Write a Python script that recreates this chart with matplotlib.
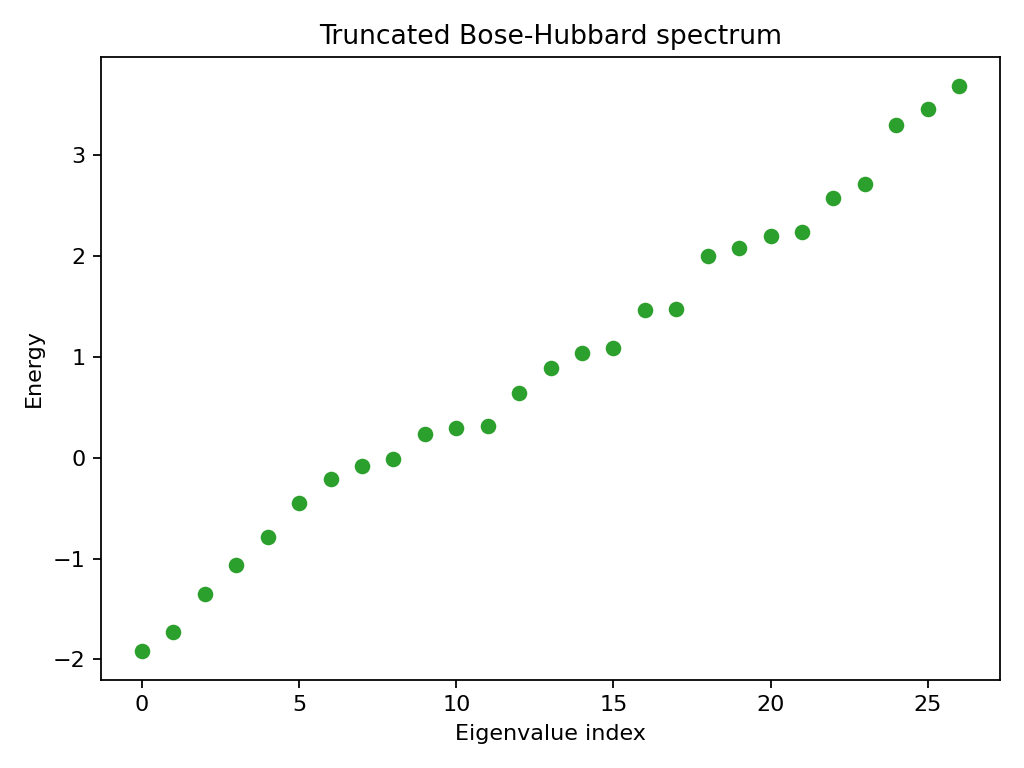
import matplotlib
matplotlib.use("Agg")
import matplotlib.pyplot as plt

indices = list(range(27))
energies = [-1.92, -1.73, -1.35, -1.06, -0.79, -0.45, -0.21, -0.08, -0.01,
            0.23, 0.29, 0.31, 0.64, 0.89, 1.04, 1.09, 1.46, 1.47,
            2.00, 2.08, 2.20, 2.24, 2.58, 2.71, 3.30, 3.46, 3.69]

fig, ax = plt.subplots(figsize=(6.4, 4.8), dpi=160)
ax.scatter(indices, energies, color='C2', s=36)
ax.set_xlabel("Eigenvalue index")
ax.set_ylabel("Energy")
ax.set_title("Truncated Bose-Hubbard spectrum")
fig.tight_layout()
fig.savefig("out.png", dpi=160)
